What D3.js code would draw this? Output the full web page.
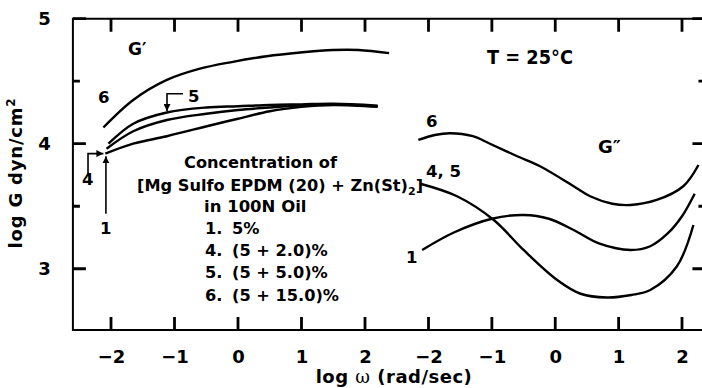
<!DOCTYPE html>
<html>
<head>
<meta charset="utf-8">
<script src="https://cdn.jsdelivr.net/npm/d3@7/dist/d3.min.js"></script>
<style>
  body { margin: 0; background: #fff; }
  svg { display: block; }
  text { font-family: "DejaVu Sans", sans-serif; font-weight: bold; fill: #000; }
</style>
</head>
<body>
<svg id="chart" width="702" height="388"></svg>
<script>
// G' (storage modulus), left panel: [log w, log G]
const gPrime1 = [[-2.09, 3.92], [-1.65, 4.0], [-1.12, 4.06], [-0.41, 4.15], [0, 4.2], [0.5, 4.26], [1.0, 4.295], [1.5, 4.31], [2.2, 4.295]];
const gPrime4 = [[-2.07, 3.96], [-1.65, 4.10], [-1.12, 4.19], [-0.5, 4.24], [0, 4.27], [0.5, 4.29], [1.0, 4.305], [1.5, 4.315], [2.2, 4.30]];
const gPrime5 = [[-2.04, 4.0], [-1.65, 4.16], [-1.12, 4.25], [-0.5, 4.29], [0, 4.30], [0.5, 4.31], [1.0, 4.315], [1.5, 4.32], [2.2, 4.305]];
const gPrime6 = [[-2.12, 4.13], [-1.65, 4.35], [-1.12, 4.51], [-0.6, 4.6], [-0.08, 4.655], [0.45, 4.70], [0.98, 4.73], [1.5, 4.75], [1.9, 4.75], [2.38, 4.725]];

// G'' (loss modulus), right panel
const gDouble1 = [[-2.1, 3.15], [-1.6, 3.29], [-1.0, 3.40], [-0.5, 3.43], [-0.1, 3.40], [0.29, 3.31], [0.7, 3.2], [1.19, 3.15], [1.5, 3.18], [1.77, 3.28], [2.0, 3.42], [2.2, 3.6]];
const gDouble45 = [[-2.13, 3.68], [-1.55, 3.58], [-0.97, 3.39], [-0.5, 3.15], [0.03, 2.91], [0.4, 2.80], [0.81, 2.77], [1.2, 2.79], [1.5, 2.83], [1.92, 3.02], [2.18, 3.35]];
const gDouble6 = [[-2.16, 4.03], [-1.9, 4.07], [-1.66, 4.084], [-1.3, 4.06], [-1.03, 4.0], [-0.6, 3.9], [-0.24, 3.82], [0.29, 3.66], [0.55, 3.58], [0.9, 3.52], [1.19, 3.51], [1.6, 3.55], [2.02, 3.66], [2.26, 3.83]];

const xTicks = [-2, -1, 0, 1, 2];
const yMajor = [3, 4, 5];
const yMinor = [3.5, 4.5];

const legendNums = ["1.", "4.", "5.", "6."];
const legendConc = ["5%", "(5 + 2.0)%", "(5 + 5.0)%", "(5 + 15.0)%"];

const svg = d3.select("#chart");

const xL = d3.scaleLinear().domain([-2, 2]).range([111, 365]);
const xR = d3.scaleLinear().domain([-2, 2]).range([428.5, 682]);
const y = d3.scaleLinear().domain([2.51, 5]).range([330, 18.7]);

const frameL = xL(-2.6), frameR = xR(2.37), frameT = y(5), frameB = y(2.51);

// frame
svg.append("path")
  .attr("d", `M${frameR},${frameT}H${frameL}V${frameB}H${frameR}V${frameT}`)
  .attr("fill", "none").attr("stroke", "#000").attr("stroke-width", 2);

// axis labels from d3 axes (tick lines drawn separately below)
const labelsOnly = g => {
  g.select(".domain").remove();
  g.selectAll(".tick line").remove();
};

[xL, xR].forEach(sc => {
  svg.append("g")
    .attr("transform", "translate(0," + frameB + ")")
    .call(d3.axisBottom(sc).tickValues(xTicks).tickSize(0).tickPadding(20)
      .tickFormat(d => d < 0 ? "\u2212" + Math.abs(d) : d))
    .call(labelsOnly)
    .call(g => g.selectAll("text").attr("font-size", 18).attr("font-family", null).attr("dy", "0.72em"));
});
svg.append("g")
  .attr("transform", "translate(" + frameL + ",0)")
  .call(d3.axisLeft(y).tickValues(yMajor).tickSize(0).tickPadding(22).tickFormat(d3.format("d")))
  .call(labelsOnly)
  .call(g => g.selectAll("text").attr("font-size", 18).attr("font-family", null));

// inward tick marks on all four sides
let tickPath = "";
[xL, xR].forEach(sc => xTicks.forEach(t => {
  tickPath += `M${sc(t)},${frameB}v-13M${sc(t)},${frameT}v13`;
}));
yMajor.forEach(t => { tickPath += `M${frameL},${y(t)}h13M${frameR},${y(t)}h-13`; });
yMinor.forEach(t => { tickPath += `M${frameL},${y(t)}h7M${frameR},${y(t)}h-7`; });
svg.append("path").attr("d", tickPath)
  .attr("fill", "none").attr("stroke", "#000").attr("stroke-width", 2.8);

// curves
const lineL = d3.line().x(d => xL(d[0])).y(d => y(d[1])).curve(d3.curveCatmullRom.alpha(0.5));
const lineR = d3.line().x(d => xR(d[0])).y(d => y(d[1])).curve(d3.curveCatmullRom.alpha(0.5));

[gPrime1, gPrime4, gPrime5, gPrime6].forEach(s => {
  svg.append("path").attr("d", lineL(s))
    .attr("fill", "none").attr("stroke", "#000").attr("stroke-width", 2.4);
});
[gDouble1, gDouble45, gDouble6].forEach(s => {
  svg.append("path").attr("d", lineR(s))
    .attr("fill", "none").attr("stroke", "#000").attr("stroke-width", 2.4);
});

// arrows
svg.append("defs").append("marker")
  .attr("id", "head").attr("viewBox", "0 0 10 10").attr("refX", 10).attr("refY", 5)
  .attr("markerWidth", 7).attr("markerHeight", 7).attr("markerUnits", "userSpaceOnUse")
  .attr("orient", "auto")
  .append("path").attr("d", "M0,0L10,5L0,10Z").attr("fill", "#000");

const arrows = [
  [[-2.08, 3.44], [-2.08, 3.90]],
  [[-2.362, 3.745], [-2.362, 3.921], [-2.12, 3.921]],
  [[-0.866, 4.40], [-1.118, 4.40], [-1.118, 4.262]]
];
arrows.forEach(a => {
  svg.append("path").attr("d", d3.line().x(d => xL(d[0])).y(d => y(d[1]))(a))
    .attr("fill", "none").attr("stroke", "#000").attr("stroke-width", 1.6)
    .attr("marker-end", "url(#head)");
});

// annotations
const label = (x, yy, t, size) => svg.append("text").attr("x", x).attr("y", yy)
  .attr("font-size", size).text(t);

label(128, 55, "G\u2032", 17);
label(598, 153, "G\u2033", 18);
label(487, 64, "T = 25\u00B0C", 20).attr("textLength", 86).attr("lengthAdjust", "spacingAndGlyphs");

label(98, 103, "6", 16.5);
label(188, 102, "5", 16.5);
label(82, 185, "4", 16.5);
label(100, 234, "1", 16.5);
label(426, 127, "6", 16.5);
label(426, 177, "4, 5", 16.5);
label(406, 263, "1", 16.5);

// legend
label(184, 168, "Concentration of", 16.2);
const br = label(137, 191, "", 16.2);
br.append("tspan").text("[Mg Sulfo EPDM (20) + Zn(St)");
br.append("tspan").attr("font-size", 11).attr("dy", 4).text("2");
br.append("tspan").attr("dy", -4).text("]");
label(204, 212, "in 100N Oil", 16.5);
legendNums.forEach((n, i) => {
  label(205, 234 + i * 22.2, n, 16.2);
  label(232, 234 + i * 22.2, legendConc[i], 16.2);
});

// axis titles
const xt = svg.append("text").attr("x", 394).attr("y", 383)
  .attr("text-anchor", "middle").attr("font-size", 18).attr("letter-spacing", 0.5);
xt.append("tspan").text("log ");
xt.append("tspan").attr("font-family", "DejaVu Serif").attr("font-weight", "normal").text("\u03C9");
xt.append("tspan").text(" (rad/sec)");

const yt = svg.append("text").attr("transform", "translate(22,173) rotate(-90)")
  .attr("text-anchor", "middle").attr("font-size", 18).attr("letter-spacing", 0.8);
yt.append("tspan").text("log G dyn/cm");
yt.append("tspan").attr("font-size", 12).attr("dy", -7).text("2");
</script>
</body>
</html>
